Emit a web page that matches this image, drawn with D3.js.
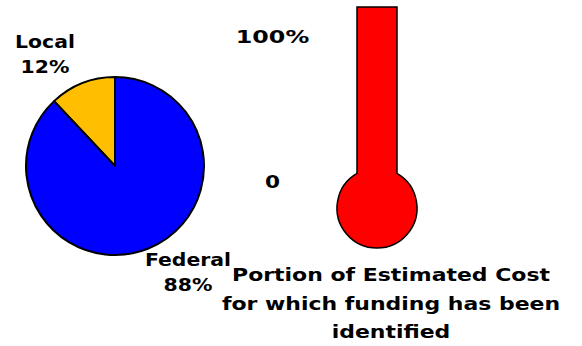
<!DOCTYPE html>
<html>
<head>
<meta charset="utf-8">
<script src="https://cdn.jsdelivr.net/npm/d3@7"></script>
<style>
  html, body { margin: 0; padding: 0; background: #fff; }
  svg { display: block; }
  text { font-family: "DejaVu Sans", Verdana, sans-serif; font-weight: bold; fill: #000; }
</style>
</head>
<body>
<svg id="chart" width="582" height="346"></svg>
<script>
// Funding sources (share of total, %)
const sources = ["Local", "Federal"];
const shares = [12, 88];
const sourceColors = ["#FFBF00", "#0000FF"];

// Portion of estimated cost for which funding has been identified (%)
const fundedPct = 100;
const thermoTicks = [0, 100];
const thermoTickLabels = ["0", "100%"];

const titleLines = ["Portion of Estimated Cost", "for which funding has been", "identified"];

const svg = d3.select("#chart");
const stretch = 1.2; // wide lettering

function label(g, x, y, str, size, sx) {
  return g.append("text")
    .attr("transform", `translate(${x},${y}) scale(${sx || stretch},1)`)
    .attr("text-anchor", "middle")
    .style("font-size", size + "px")
    .text(str);
}

// ---- Pie ----
const pieCx = 115, pieCy = 166, pieR = 89;
const startA = -2 * Math.PI * shares[0] / 100;
const pie = d3.pie().sort(null).startAngle(startA).endAngle(startA + 2 * Math.PI);
const arcs = pie(shares);
const arc = d3.arc().innerRadius(0).outerRadius(pieR);
const pg = svg.append("g").attr("transform", `translate(${pieCx},${pieCy})`);
pg.selectAll("path").data(arcs).join("path")
  .attr("d", arc)
  .attr("fill", (d, i) => sourceColors[i])
  .attr("stroke", "#000")
  .attr("stroke-width", 2)
  .attr("stroke-linejoin", "round");

// slice labels
const labelPos = [[45, 48], [188, 266]];
sources.forEach((s, i) => {
  label(svg, labelPos[i][0], labelPos[i][1], s, 17);
  label(svg, labelPos[i][0], labelPos[i][1] + 25, shares[i] + "%", 17);
});

// ---- Thermometer ----
const tubeX = 357, tubeW = 40, bulbR = 40;
const y = d3.scaleLinear().domain([0, 100]).range([170, 7]);
const bulbCx = tubeX + tubeW / 2, bulbCy = 208;
const topY = y(fundedPct);

// outline: tube merged with bulb
const half = tubeW / 2;
const joinDy = Math.sqrt(bulbR * bulbR - half * half);
const thermoPath = d3.path();
thermoPath.moveTo(bulbCx - half, topY);
thermoPath.lineTo(bulbCx + half, topY);
thermoPath.lineTo(bulbCx + half, bulbCy - joinDy);
const a0 = Math.atan2(-joinDy, half);
const a1 = Math.atan2(-joinDy, -half);
thermoPath.arc(bulbCx, bulbCy, bulbR, a0, a1 + 2 * Math.PI, false);
thermoPath.closePath();
svg.append("path")
  .attr("d", thermoPath.toString())
  .attr("fill", "#FF0000")
  .attr("stroke", "#000")
  .attr("stroke-width", 1.5);

// tick labels beside the thermometer
const tickY = d3.scaleLinear().domain([0, 100]).range([188, 43]);
thermoTicks.forEach((t, i) => {
  label(svg, 272.5, tickY(t), thermoTickLabels[i], 18, t === 100 ? 1.32 : 1.2);
});

// title
titleLines.forEach((line, i) => {
  label(svg, 391, 281 + i * 28.5, line, 18.3);
});
</script>
</body>
</html>
